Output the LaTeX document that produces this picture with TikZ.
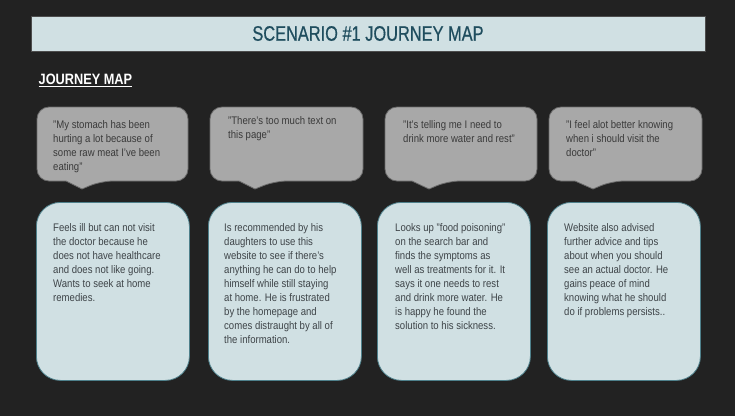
\documentclass[tikz,border=0pt]{standalone}
\usepackage{fontspec}
\setmainfont{Liberation Sans}[FakeStretch=0.87]
\newfontfamily\headfont{Liberation Sans}[FakeStretch=0.78, FakeBold=0.6]
\newfontfamily\subfont{Liberation Sans}[FakeStretch=0.85]
\definecolor{pagebg}{HTML}{222222}
\definecolor{paleblue}{HTML}{D0E0E3}
\definecolor{headteal}{HTML}{1F4D5E}
\definecolor{cardedge}{HTML}{4E808B}
\definecolor{bubblefill}{HTML}{A8A8A8}
\definecolor{bubbleedge}{HTML}{6A6A6A}
\definecolor{bubbletext}{HTML}{3A3A3A}
\definecolor{cardtext}{HTML}{3E4448}
\tikzset{
  titlebar/.style={fill=paleblue, draw=black!70, line width=0.8pt, minimum width=674pt,
    minimum height=35pt, inner sep=0pt, text=headteal, font=\headfont\fontsize{21}{21}\selectfont},
  subhead/.style={anchor=base west, inner sep=0pt, text=white, font=\subfont\bfseries\fontsize{15}{15}\selectfont},
  bubble/.style={fill=bubblefill, draw=bubbleedge, line width=0.8pt},
  quotetext/.style={anchor=north west, inner sep=0pt, align=left, text=bubbletext,
    font=\fontsize{11}{14}\selectfont},
  card/.style={fill=paleblue, draw=cardedge, line width=0.8pt, rounded corners=24pt,
    minimum width=153pt, minimum height=178pt, inner sep=0pt, anchor=north west},
  cardtxt/.style={anchor=north west, inner sep=0pt, align=left, text=cardtext,
    font=\fontsize{11}{14}\selectfont},
}
% speech bubble: left, right, tip x, pointer base left, pointer base right
\newcommand\speechbubble[5]{%
  \draw[bubble, rounded corners=12pt] (#1,144) -- (#1,107) -- (#2,107) -- (#2,181) -- (#5,181)
    [sharp corners] -- (#3,189) -- (#4,181) [rounded corners=12pt] -- (#1,181) -- cycle;}
\begin{document}
\begin{tikzpicture}[x=1pt,y=-1pt]
\fill[pagebg] (0,0) rectangle (735,416);
\useasboundingbox (0,0) rectangle (735,416);

% heading
\node[titlebar] (title) at (368,33.5) {SCENARIO \#1 JOURNEY MAP};
\node[subhead] (sub) at (38.5,84) {JOURNEY MAP};
\draw[white, line width=1pt] ([yshift=-2.5pt]sub.base west) -- ([yshift=-2.5pt]sub.base east);

% quote bubbles
\speechbubble{37}{188}{82}{66}{101}
\speechbubble{210}{363}{255}{239}{275}
\speechbubble{385}{537}{429}{412}{448}
\speechbubble{549}{702}{593}{575}{612}

\node[quotetext] (q1) at (53,120) {"My stomach has been\\hurting a lot because of\\some raw meat I've been\\eating"};
\node[quotetext] (q2) at (228,116) {"There's too much text on\\this page"};
\node[quotetext] (q3) at (403,120) {"It's telling me I need to\\drink more water and rest"};
\node[quotetext] (q4) at (566,120) {"I feel alot better knowing\\when i should visit the\\doctor"};

% story cards
\node[card] (c1) at (36,202) {};
\node[card] (c2) at (208,202) {};
\node[card] (c3) at (377,202) {};
\node[card] (c4) at (547,202) {};

\node[cardtxt] (t1) at (53,223) {Feels ill but can not visit\\the doctor because he\\does not have healthcare\\and does not like going.\\Wants to seek at home\\remedies.};
\node[cardtxt] (t2) at (224,223) {Is recommended by his\\daughters to use this\\website to see if there's\\anything he can do to help\\himself while still staying\\at home. He is frustrated\\by the homepage and\\comes distraught by all of\\the information.};
\node[cardtxt] (t3) at (395,223) {Looks up "food poisoning"\\on the search bar and\\finds the symptoms as\\well as treatments for it. It\\says it one needs to rest\\and drink more water. He\\is happy he found the\\solution to his sickness.};
\node[cardtxt] (t4) at (564,223) {Website also advised\\further advice and tips\\about when you should\\see an actual doctor. He\\gains peace of mind\\knowing what he should\\do if problems persists..};
\end{tikzpicture}
\end{document}
